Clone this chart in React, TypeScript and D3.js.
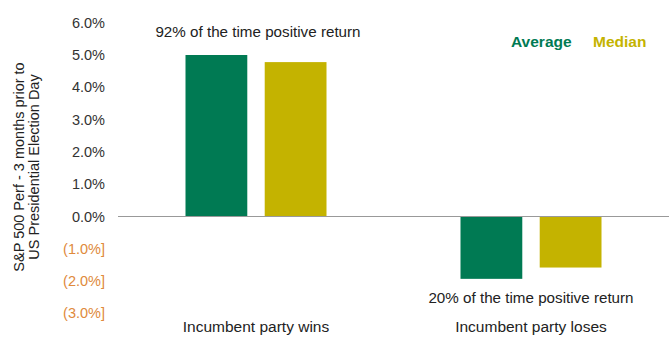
import React from "react";
import * as d3 from "d3";

const categories = ["Incumbent party wins", "Incumbent party loses"];
const seriesNames = ["Average", "Median"];
const averageValues = [5.0, -1.93];
const medianValues = [4.78, -1.58];
const annotations = ["92% of the time positive return", "20% of the time positive return"];
const yTicks = [6, 5, 4, 3, 2, 1, 0, -1, -2, -3];
const colors = ["#007A53", "#C4B300"];

const W = 669;
const H = 338;
const FONT = "'Liberation Sans', Arial, Helvetica, sans-serif";

export default function App() {
  const y = d3.scaleLinear().domain([-3, 6]).range([313.4, 22.7]);
  const x0 = d3.scaleBand().domain(categories).range([118.5, 668.5]).paddingInner(0).paddingOuter(0);
  const x1 = d3.scaleBand().domain(seriesNames).range([0, 141]).paddingInner(0.22).paddingOuter(0);
  const series = [averageValues, medianValues];
  const fmt = (v: number) => (v < 0 ? `(${Math.abs(v).toFixed(1)}%]` : `${v.toFixed(1)}%`);

  return (
    <svg width={W} height={H} style={{ position: "absolute", left: 0, top: 0, background: "#fff" }} fontFamily={FONT}>
      {yTicks.map((t) => (
        <text key={t} x={105} y={y(t)} dy="0.35em" textAnchor="end" fontSize={14.5}
          fill={t < 0 ? "#E08A3C" : "#333"}>
          {fmt(t)}
        </text>
      ))}
      <g transform={`translate(24, ${167}) rotate(-90)`}>
        <text x={0} y={0} textAnchor="middle" fontSize={14.5} fill="#222">S&amp;P 500 Perf - 3 months prior to</text>
        <text x={0} y={15} textAnchor="middle" fontSize={14.5} fill="#222">US Presidential Election Day</text>
      </g>
      {categories.map((c, ci) => {
        const cx = x0(c)! + x0.bandwidth() / 2;
        const gx = cx - 70.5;
        return (
          <g key={c} transform={`translate(${gx},0)`}>
            {seriesNames.map((s, si) => {
              const v = series[si][ci];
              return (
                <rect key={s} x={x1(s)} width={x1.bandwidth()} y={Math.min(y(v), y(0))}
                  height={Math.abs(y(v) - y(0))} fill={colors[si]} />
              );
            })}
          </g>
        );
      })}
      <line x1={118} x2={669} y1={y(0)} y2={y(0)} stroke="#999" strokeWidth={1} />
      {categories.map((c, ci) => {
        const cx = x0(c)! + x0.bandwidth() / 2;
        const yy = ci === 0 ? 37 : 303;
        return (
          <text key={c + "a"} x={cx + (ci === 0 ? 2 : 0)} y={yy} textAnchor="middle" fontSize={15.2} fill="#222">
            {annotations[ci]}
          </text>
        );
      })}
      {categories.map((c) => (
        <text key={c} x={x0(c)! + x0.bandwidth() / 2} y={332} textAnchor="middle" fontSize={15.5} fill="#222">
          {c}
        </text>
      ))}
      <text x={511} y={47} fontSize={15.5} fontWeight="bold" fill={colors[0]}>{seriesNames[0]}</text>
      <text x={593} y={47} fontSize={15.5} fontWeight="bold" fill={colors[1]}>{seriesNames[1]}</text>
    </svg>
  );
}
